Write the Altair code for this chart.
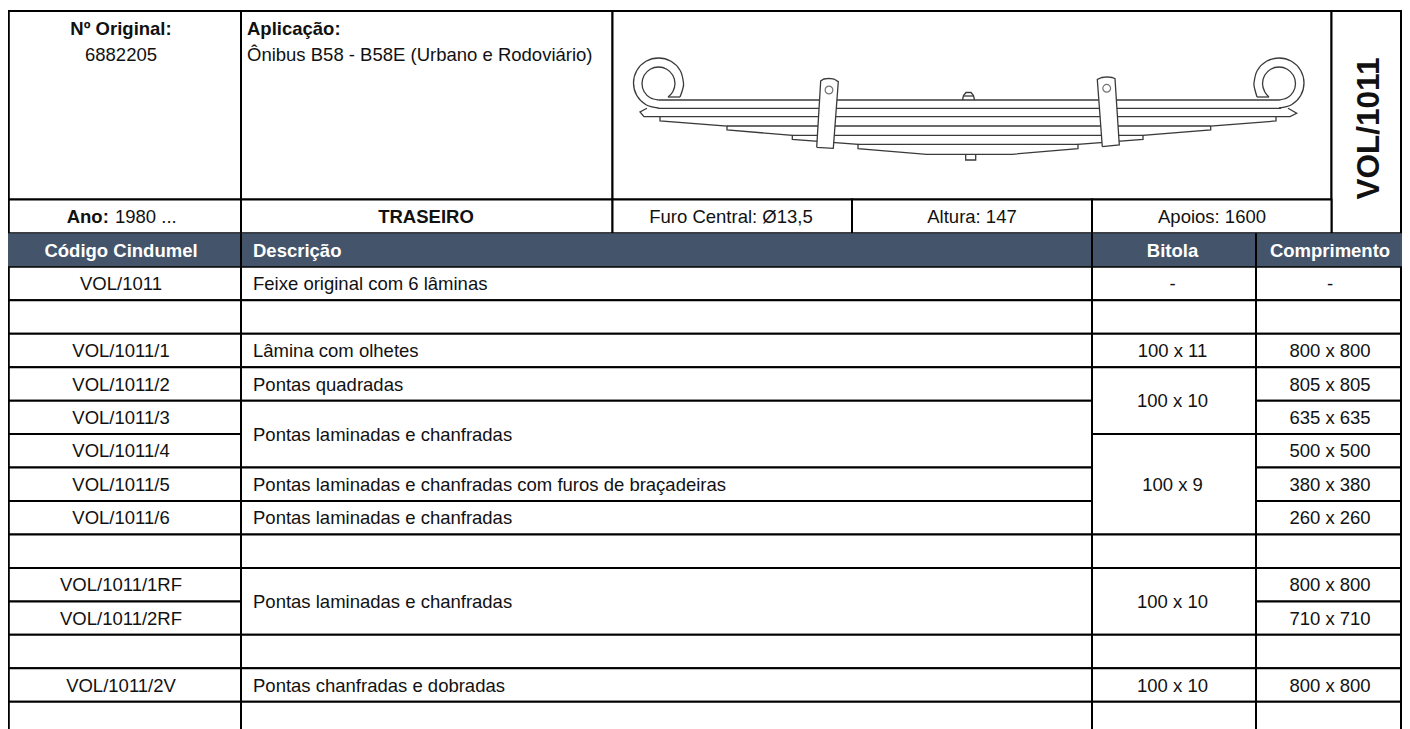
import altair as alt
import pandas as pd

# ---- table content ----
codes = ["VOL/1011", "", "VOL/1011/1", "VOL/1011/2", "VOL/1011/3", "VOL/1011/4", "VOL/1011/5",
         "VOL/1011/6", "", "VOL/1011/1RF", "VOL/1011/2RF", "", "VOL/1011/2V", ""]
lengths = ["-", "", "800 x 800", "805 x 805", "635 x 635", "500 x 500", "380 x 380",
           "260 x 260", "", "800 x 800", "710 x 710", "", "800 x 800", ""]
# (first row, last row, text)
descriptions = [(0, 0, "Feixe original com 6 lâminas"), (1, 1, ""), (2, 2, "Lâmina com olhetes"),
                (3, 3, "Pontas quadradas"), (4, 5, "Pontas laminadas e chanfradas"),
                (6, 6, "Pontas laminadas e chanfradas com furos de braçadeiras"),
                (7, 7, "Pontas laminadas e chanfradas"), (8, 8, ""),
                (9, 10, "Pontas laminadas e chanfradas"), (11, 11, ""),
                (12, 12, "Pontas chanfradas e dobradas"), (13, 13, "")]
gauges = [(0, 0, "-"), (1, 1, ""), (2, 2, "100 x 11"), (3, 4, "100 x 10"), (5, 7, "100 x 9"),
          (8, 8, ""), (9, 10, "100 x 10"), (11, 11, ""), (12, 12, "100 x 10"), (13, 13, "")]
headers = ["Código Cindumel", "Descrição", "Bitola", "Comprimento"]

# ---- layout of the sheet, in sheet units ----
W, H = 1394, 721
LEFT, COL1, COL2, COL3, RIGHT = 8.8, 241, 1092, 1256, 1401
IMG_L, MID, IMG_R = 612.5, 852, 1331.5
TOP, INFO, HEAD, BODY, ROW = 11, 199.6, 233.3, 266.8, 33.46
CODE_C, GAUGE_C, LEN_C = 121, 1172.5, 1330
DESC_L = 253
TXT = 0.6
FS = 18.5
GRID_W = 2

def top(r):
    return BODY + r * ROW

SX = alt.Scale(domain=[8, 8 + W], range=[0, W])
SY = alt.Scale(domain=[729, 8], range=[H, 0])
X = lambda f="x": alt.X(f"{f}:Q", scale=SX, axis=None)
Y = lambda f="y": alt.Y(f"{f}:Q", scale=SY, axis=None)

# ---- cells ----
cells = [
    (LEFT, COL1, TOP, INFO), (COL1, IMG_L, TOP, INFO), (IMG_L, IMG_R, TOP, INFO), (IMG_R, RIGHT, TOP, HEAD),
    (LEFT, COL1, INFO, HEAD), (COL1, IMG_L, INFO, HEAD), (IMG_L, MID, INFO, HEAD),
    (MID, COL2, INFO, HEAD), (COL2, IMG_R, INFO, HEAD),
]
for r in range(len(codes)):
    cells.append((LEFT, COL1, top(r), top(r + 1)))
    cells.append((COL3, RIGHT, top(r), top(r + 1)))
for a, b, _ in descriptions:
    cells.append((COL1, COL2, top(a), top(b + 1)))
for a, b, _ in gauges:
    cells.append((COL2, COL3, top(a), top(b + 1)))
cells_df = pd.DataFrame(cells, columns=["x", "x2", "y", "y2"])

grid = alt.Chart(cells_df).mark_rect(fill="white", stroke="black", strokeWidth=GRID_W).encode(
    x=X(), x2=alt.X2("x2:Q"), y=Y(), y2=alt.Y2("y2:Q"))

head_band = alt.Chart(pd.DataFrame({"x": [LEFT - 0.8], "x2": [RIGHT + 1], "y": [HEAD], "y2": [BODY - 0.6]})).mark_rect(
    fill="#44546a").encode(x=X(), x2=alt.X2("x2:Q"), y=Y(), y2=alt.Y2("y2:Q"))
head_rules = alt.Chart(pd.DataFrame({"x": [COL1, COL2, COL3], "y": [HEAD] * 3, "y2": [BODY] * 3})).mark_rule(
    color="black", strokeWidth=GRID_W).encode(x=X(), y=Y(), y2=alt.Y2("y2:Q"))

# ---- texts ----
def text_layer(rows, weight="normal", align="center", color="#111111", size=FS):
    df = pd.DataFrame(rows, columns=["x", "y", "t"])
    return alt.Chart(df).mark_text(font="Liberation Sans", fontSize=size, fontWeight=weight, align=align,
                                   baseline="middle", color=color).encode(x=X(), y=Y(), text="t:N")

body_center, body_left = [], []
for r, c in enumerate(codes):
    if c:
        body_center.append((CODE_C, top(r) + ROW / 2 + TXT, c))
    if lengths[r]:
        body_center.append((LEN_C, top(r) + ROW / 2 + TXT, lengths[r]))
for a, b, t in gauges:
    if t:
        body_center.append((GAUGE_C, (top(a) + top(b + 1)) / 2 + TXT, t))
for a, b, t in descriptions:
    if t:
        body_left.append((DESC_L, (top(a) + top(b + 1)) / 2 + TXT, t))

info_y = (INFO + HEAD) / 2 + TXT
normal_center = text_layer(body_center + [
    (CODE_C, 55, "6882205"),
    (731, info_y, "Furo Central: Ø13,5"), (972, info_y, "Altura: 147"), (1212, info_y, "Apoios: 1600")])
normal_left = text_layer(body_left + [(247, 55, "Ônibus B58 - B58E (Urbano e Rodoviário)"), (115, info_y, "1980 ...")],
                         align="left")
bold_center = text_layer([(CODE_C, 29, "Nº Original:"), (426, info_y, "TRASEIRO")], weight="bold")
bold_left = text_layer([(247, 29, "Aplicação:"), (66.7, info_y, "Ano:")], weight="bold", align="left")
head_text = [
    text_layer([(CODE_C, 250.5, headers[0]), (GAUGE_C, 250.5, headers[2]), (LEN_C, 250.5, headers[3])],
               weight="bold", color="white"),
    text_layer([(DESC_L, 250.5, headers[1])], weight="bold", align="left", color="white"),
]
side = alt.Chart(pd.DataFrame({"x": [1370], "y": [128.5], "t": ["VOL/1011"]})).mark_text(
    font="Liberation Sans", fontSize=31.5, fontWeight="bold", angle=270, align="center",
    baseline="middle", color="#111111").encode(x=X(), y=Y(), text="t:N")

# ---- leaf-spring drawing ----
straight_paths = {
    "l1": [(658.5, 100), (1279, 100)],
    "l2": [(658, 108.3), (1281, 108.3)],
    "tipL": [(647, 108.3), (640, 112), (644, 116.7), (660, 116.7)],
    "l3": [(660, 116.7), (1276, 116.7)],
    "tipR": [(1288, 108.3), (1296.7, 113.3), (1290, 116.7), (1276, 116.7)],
    "l4": [(727, 126), (1210.7, 126)],
    "l5": [(792.3, 135.3), (1143, 135.3)],
    "l6": [(858, 144.3), (1078, 144.3)],
    "under": [(660, 116.7), (660, 121), (727, 126), (727, 130), (792.3, 135.3), (792.3, 139.3), (858, 144.3),
              (858, 148.7), (926.7, 154.3), (1012, 154.3), (1078, 148.7), (1078, 144.3), (1143, 139.3),
              (1143, 135.3), (1210.7, 130), (1210.7, 126), (1276, 121), (1276, 116.7)],
    "footL": [(668, 97), (680, 97)],
    "footR": [(1269, 97), (1257, 97)],
    "stub": [(965.7, 154.3), (965.7, 160), (975.7, 160), (975.7, 154.3)],
    "nut": [(962.5, 100), (963.5, 95.5), (966, 92.5), (971, 92.5), (973.5, 95.5), (974.5, 100)],
    "nutbar": [(964, 96), (973, 96)],
}
curved_paths = {
    "outerL": [(658.5, 108), (646, 104.7), (636.8, 95.5), (633.5, 83), (636.8, 70.5), (646, 61.3), (658.5, 58),
               (671, 61.3), (680.2, 70.5), (683.5, 83), (682.6, 89.5), (680, 97)],
    "innerL": [(658.5, 100), (650.2, 97.8), (644.2, 91.8), (642, 83.5), (644.2, 75.2), (650.2, 69.2), (658.5, 67),
               (666.8, 69.2), (672.8, 75.2), (675, 83.5), (672.8, 91.8), (668, 97)],
    "outerR": [(1279, 108), (1291.5, 104.7), (1300.7, 95.5), (1304, 83), (1300.7, 70.5), (1291.5, 61.3), (1279, 58),
               (1266.5, 61.3), (1257.3, 70.5), (1254, 83), (1254.9, 89.5), (1257, 97)],
    "innerR": [(1279, 100), (1287.3, 97.8), (1293.3, 91.8), (1295.5, 83.5), (1293.3, 75.2), (1287.3, 69.2), (1279, 67),
               (1270.7, 69.2), (1264.7, 75.2), (1262.5, 83.5), (1264.7, 91.8), (1269, 97)],
}
clamp_outlines = {
    "cL": [(816.7, 147.3), (820.7, 81), (824, 79), (829, 78.3), (834, 79), (838.3, 81.7), (833.3, 148.3), (816.7, 147.3)],
    "cR": [(1102.3, 146.7), (1097.3, 79.5), (1102, 77.5), (1107, 76.8), (1112, 77.5), (1115, 78.6), (1119.3, 145), (1102.3, 146.7)],
}
clamp_fill = [
    {"id": "cL", "y": 79, "x": 824, "x2": 834}, {"id": "cL", "y": 82, "x": 820.7, "x2": 838.2},
    {"id": "cL", "y": 148, "x": 816.7, "x2": 833.3},
    {"id": "cR", "y": 78, "x": 1100, "x2": 1115}, {"id": "cR", "y": 80, "x": 1097.4, "x2": 1115.1},
    {"id": "cR", "y": 146, "x": 1102.3, "x2": 1119.3},
]
clamp_holes = {"x": [829, 1106.7], "y": [90, 88.3]}

def long_table(paths):
    rows = []
    for name, pts in paths.items():
        for i, (x, y) in enumerate(pts):
            rows.append({"id": name, "i": i, "x": x, "y": y})
    return pd.DataFrame(rows)

INK = "#3a3a3a"
def path_layer(paths, **kw):
    return alt.Chart(long_table(paths)).mark_line(color=INK, strokeWidth=1.3, **kw).encode(
        x=X(), y=Y(), detail="id:N", order="i:Q")

straight = path_layer(straight_paths)
curved = path_layer(curved_paths, interpolate="cardinal")
clamp_white = alt.Chart(pd.DataFrame(clamp_fill)).mark_area(orient="horizontal", color="white", interpolate="linear").encode(
    y=Y(), x=X(), x2=alt.X2("x2:Q"), detail="id:N")
clamps = path_layer(clamp_outlines)
holes = alt.Chart(pd.DataFrame(clamp_holes)).mark_point(shape="circle", size=60, filled=False, color=INK, strokeWidth=1.2).encode(
    x=X(), y=Y())

chart = alt.layer(
    grid, head_band, head_rules, straight, curved, clamp_white, clamps, holes,
    normal_center, normal_left, bold_center, bold_left, *head_text, side,
).properties(width=W, height=H, padding=0, autosize=alt.AutoSizeParams(type="none")).configure_view(stroke=None)

chart.save("out.html", embed_options={"renderer": "svg", "actions": False})
